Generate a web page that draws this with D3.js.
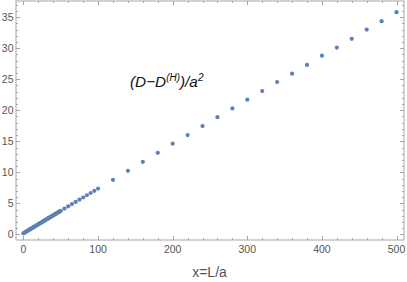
<!DOCTYPE html>
<html><head><meta charset="utf-8">
<script src="https://cdn.jsdelivr.net/npm/d3@7"></script>
<style>body{margin:0;background:#fff}svg{display:block}</style>
</head><body>
<script>
// dense section x = 0..50 step 1
const xDense = d3.range(0, 51, 1);
const yDense = [0.18,0.26,0.33,0.40,0.47,0.55,0.62,0.69,0.76,0.84,0.91,0.98,1.05,1.13,1.20,1.27,1.34,1.42,1.49,1.56,1.63,1.71,1.78,1.85,1.92,2.00,2.07,2.14,2.21,2.29,2.36,2.43,2.50,2.58,2.65,2.72,2.79,2.87,2.94,3.01,3.08,3.16,3.23,3.30,3.37,3.45,3.52,3.59,3.66,3.74,3.81];
const xMid = [55,60,65,70,75,80,85,90,95,100];
const yMid = [4.17,4.53,4.88,5.24,5.60,5.95,6.31,6.67,7.02,7.38];
const xFar = [120,140,160,180,200,220,240,260,280,300,320,340,360,380,400,420,440,460,480,500];
const yFar = [8.80,10.25,11.70,13.15,14.62,16.00,17.45,18.88,20.30,21.70,23.10,24.55,25.90,27.30,28.80,30.10,31.50,33.00,34.35,35.80];
const xTicks = [0,100,200,300,400,500];
const yTicks = [0,5,10,15,20,25,30,35];
const plotLabel = ["(D−D", "(H)", ")/a", "2"];
const xAxisLabel = "x=L/a";

const pts = [];
xDense.forEach((x,i)=>pts.push([x,yDense[i]]));
xMid.forEach((x,i)=>pts.push([x,yMid[i]]));
xFar.forEach((x,i)=>pts.push([x,yFar[i]]));

const W=407,H=282;
const L=16,R=404,T=1,B=240;
const x=d3.scaleLinear().domain([-10,510]).range([L,R]);
const y=d3.scaleLinear().domain([-0.9,37.6]).range([B,T]);
const svg=d3.select("body").append("svg").attr("width",W).attr("height",H);
const frameCol="#a6a6a6", textCol="#555";
const font="'Liberation Sans', Arial, sans-serif";

// frame
svg.append("rect").attr("x",L).attr("y",T).attr("width",R-L).attr("height",B-T)
  .attr("fill","none").attr("stroke",frameCol).attr("stroke-width",1);

const xMinor=d3.range(-0,510,20).filter(v=>!xTicks.includes(v));
const yMinor=d3.range(0,38,1).filter(v=>!yTicks.includes(v));
const g=svg.append("g").attr("stroke",frameCol).attr("stroke-width",1);
function xt(vals,len){
  vals.forEach(v=>{
    const px=Math.round(x(v))+0.5;
    g.append("line").attr("x1",px).attr("x2",px).attr("y1",B).attr("y2",B-len);
    g.append("line").attr("x1",px).attr("x2",px).attr("y1",T).attr("y2",T+len);
  });
}
function yt(vals,len){
  vals.forEach(v=>{
    const py=Math.round(y(v))+0.5;
    g.append("line").attr("y1",py).attr("y2",py).attr("x1",L).attr("x2",L+len);
    g.append("line").attr("y1",py).attr("y2",py).attr("x1",R).attr("x2",R-len);
  });
}
xt(xTicks,4); xt(xMinor,2); yt(yTicks,4); yt(yMinor,2);

// tick labels
svg.append("g").selectAll("text").data(xTicks).join("text")
  .attr("x",d=>x(d)).attr("y",B+13).attr("text-anchor","middle")
  .attr("font-family",font).attr("font-size",10.5).attr("fill",textCol).text(d=>d);
svg.append("g").selectAll("text").data(yTicks).join("text")
  .attr("x",L-2.5).attr("y",d=>y(d)+3.8).attr("text-anchor","end")
  .attr("font-family",font).attr("font-size",10.5).attr("fill",textCol).text(d=>d);

// points
svg.append("g").selectAll("circle").data(pts).join("circle")
  .attr("cx",d=>x(d[0])).attr("cy",d=>y(d[1])).attr("r",2.1)
  .attr("fill","#5e81b5");

// plot label
const t=svg.append("text").attr("x",130).attr("y",87).attr("font-family",font)
  .attr("font-size",15.3).attr("font-style","italic").attr("fill","#111");
t.append("tspan").text(plotLabel[0]);
t.append("tspan").attr("font-size",10).attr("dy",-6).text(plotLabel[1]);
t.append("tspan").attr("dy",6).text(plotLabel[2]);
t.append("tspan").attr("font-size",10).attr("dy",-6).text(plotLabel[3]);

// axis label
svg.append("text").attr("x",209.5).attr("y",276.5).attr("text-anchor","middle")
  .attr("font-family",font).attr("font-size",14).attr("fill",textCol).text(xAxisLabel);
</script>
</body></html>
